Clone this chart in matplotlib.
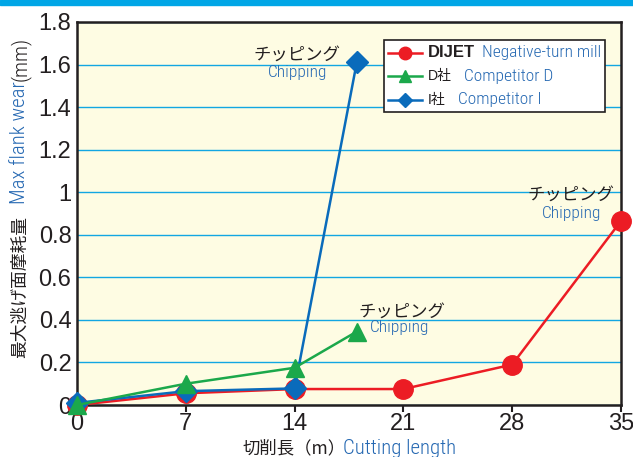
import matplotlib
matplotlib.use("Agg")
import matplotlib.pyplot as plt
from matplotlib.lines import Line2D
from matplotlib.patches import Rectangle
from matplotlib.offsetbox import AnchoredOffsetbox, HPacker, VPacker, TextArea, DrawingArea

# data
cut_len_dijet = [0, 7, 14, 21, 28, 35]
wear_dijet = [0.0, 0.055, 0.075, 0.075, 0.19, 0.865]
cut_len_d = [0, 7, 14, 18]
wear_d = [0.0, 0.1, 0.175, 0.345]
cut_len_i = [0, 7, 14, 18]
wear_i = [0.01, 0.065, 0.078, 1.61]

x_ticks = [0, 7, 14, 21, 28, 35]
y_ticks = [0, 0.2, 0.4, 0.6, 0.8, 1.0, 1.2, 1.4, 1.6, 1.8]
y_tick_labels = ['0', '0.2', '0.4', '0.6', '0.8', '1', '1.2', '1.4', '1.6', '1.8']

RED = '#EC1C24'
GREEN = '#1BA84B'
BLUE = '#0A6BBB'
TXT_BLUE = '#2568B2'
DARK = '#231F20'
CYAN = '#12A6E2'

NUM_FONT = ['Liberation Sans', 'DejaVu Sans']
NARROW = ['Roboto Condensed', 'DejaVu Sans']
JP = ['Noto Sans CJK JP', 'DejaVu Sans']
THIN = 300

fig = plt.figure(figsize=(6.33, 4.57), dpi=100)
ax = fig.add_axes([77 / 633, 52 / 457, 544 / 633, 383 / 457])
ax.set_facecolor('#FEFCE3')

# top stripe
fig.patches.append(Rectangle((0, 1 - 5 / 457), 1, 5 / 457, transform=fig.transFigure,
                             color='#00A6E6', zorder=0))

ax.set_xlim(0, 35)
ax.set_ylim(0, 1.8)
ax.yaxis.grid(True, color=CYAN, lw=1.0)
ax.set_axisbelow(True)
ax.set_yticks(y_ticks)
ax.set_yticklabels(y_tick_labels, family=NUM_FONT, fontsize=17, color=DARK)
ax.set_xticks(x_ticks)
ax.set_xticklabels([str(t) for t in x_ticks], family=NUM_FONT, fontsize=17, color=DARK)
ax.tick_params(axis='y', length=0, pad=4)
ax.tick_params(axis='x', length=5, width=1.5, color=DARK, pad=1)
for sp in ax.spines.values():
    sp.set_color(DARK)
    sp.set_linewidth(1.8)

ax.plot(cut_len_dijet, wear_dijet, color=RED, lw=1.8, marker='o', ms=14,
        clip_on=False, zorder=3)
ax.plot(cut_len_i, wear_i, color=BLUE, lw=1.8, marker='D', ms=11,
        clip_on=False, zorder=4)
ax.plot(cut_len_d, wear_d, color=GREEN, lw=1.8, marker='^', ms=13,
        clip_on=False, zorder=5)

# chipping notes
notes = [((14.16, 1.645), (14.22, 1.565)),
         ((20.91, 0.437), (20.78, 0.362)),
         ((31.78, 0.987), (31.85, 0.902))]
for jp_pos, en_pos in notes:
    ax.text(*jp_pos, 'チッピング', family=JP, fontsize=12.5, color=DARK,
            ha='center', va='center', zorder=6)
    ax.text(*en_pos, 'Chipping', family=NARROW, weight=THIN, fontsize=12.5,
            color=TXT_BLUE, ha='center', va='center', zorder=6)

# legend built by hand, for two-colour labels
def handle(color, marker, ms):
    da = DrawingArea(25, 12, 0, 0)
    da.add_artist(Line2D([0, 25], [6, 6], color=color, lw=1.8))
    da.add_artist(Line2D([12.5], [6], color=color, marker=marker, ms=ms))
    return da

rows = [
    (RED, 'o', 9, 'DIJET', 'bold', 12, 'Negative-turn mill', 5),
    (GREEN, '^', 8.5, 'D社', 'normal', 10, 'Competitor D', 9),
    (BLUE, 'D', 7.5, 'I社', 'normal', 10, 'Competitor I', 9),
]
packs = []
for color, mk, ms, name, weight, fs, desc, sep in rows:
    name_box = TextArea(name, textprops=dict(family=NUM_FONT + JP, fontsize=fs,
                                             weight=weight, color=DARK))
    desc_box = TextArea(desc, textprops=dict(family=NARROW, weight=THIN, fontsize=12.5,
                                             color=TXT_BLUE))
    inner = HPacker(children=[name_box, desc_box], sep=sep, align='center')
    packs.append(HPacker(children=[handle(color, mk, ms), inner], sep=4, align='center'))
legend_box = VPacker(children=packs, sep=5, align='left')
anchored = AnchoredOffsetbox(loc='upper right', child=legend_box, pad=0.3, borderpad=0,
                             bbox_to_anchor=(0.971, 0.953), bbox_transform=ax.transAxes,
                             frameon=True)
anchored.patch.set_edgecolor(DARK)
anchored.patch.set_linewidth(1.2)
anchored.patch.set_facecolor('white')
anchored.set_zorder(7)
ax.add_artist(anchored)

# axis titles, two colours each
fig.text(20 / 633, (457 - 358) / 457, '最大逃げ面摩耗量', family=JP, fontsize=12.8,
         color=DARK, rotation=90, ha='center', va='bottom')
fig.text(20 / 633, (457 - 204) / 457, 'Max flank wear', family=NARROW, weight=THIN,
         fontsize=15, color=TXT_BLUE, rotation=90, ha='center', va='bottom')
fig.text(20 / 633, (457 - 81) / 457, '(mm)', family=NARROW, weight=THIN, fontsize=15,
         color=DARK, rotation=90, ha='center', va='bottom')

fig.text(242 / 633, 9 / 457, '切削長（m）', family=JP, fontsize=12.5, color=DARK,
         ha='left', va='center')
fig.text(343 / 633, 9 / 457, 'Cutting length', family=NARROW, weight=THIN, fontsize=15,
         color=TXT_BLUE, ha='left', va='center')

fig.savefig('out.png', dpi=100)
